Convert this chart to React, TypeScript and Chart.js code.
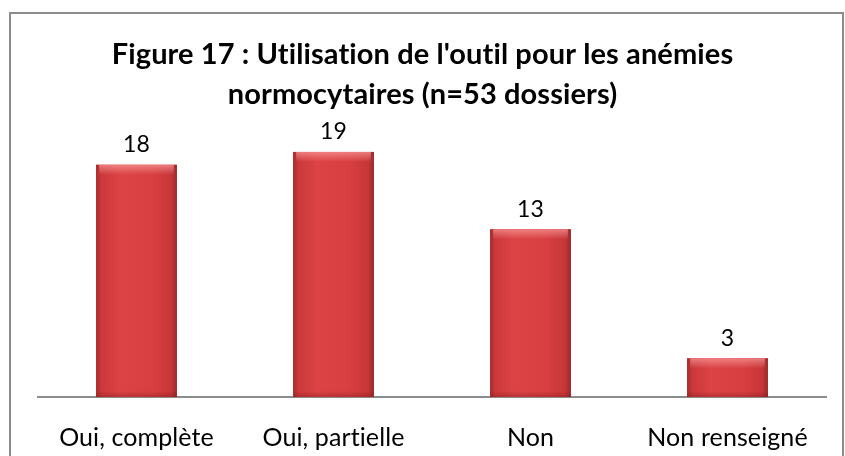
import React, { useEffect, useRef } from "react";
import { Chart, registerables } from "chart.js";

Chart.register(...registerables);

const categories = ["Oui, complète", "Oui, partielle", "Non", "Non renseigné"];
const values = [18, 19, 13, 3];
const titleLines = ["Figure 17 : Utilisation de l'outil pour les anémies", "normocytaires (n=53 dossiers)"];

const FONT = "Lato, 'Open Sans', sans-serif";

const noLigatures = {
  id: "noLigatures",
  beforeDraw(chart: any) {
    (chart.ctx as any).letterSpacing = "0.1px";
  },
};

const centeredTitle = {
  id: "centeredTitle",
  afterDraw(chart: any) {
    const ctx = chart.ctx;
    ctx.save();
    ctx.font = `bold 29px ${FONT}`;
    ctx.fillStyle = "#000";
    ctx.textAlign = "center";
    ctx.textBaseline = "middle";
    const cx = chart.width / 2;
    titleLines.forEach((line, i) => {
      ctx.fillText(line, cx, 55 + i * 40);
    });
    ctx.restore();
  },
};

const barStyle = {
  id: "barStyle",
  afterDatasetsDraw(chart: any) {
    const ctx = chart.ctx;
    const meta = chart.getDatasetMeta(0);
    ctx.save();
    meta.data.forEach((el: any) => {
      const l = el.x - el.width / 2;
      const r = el.x + el.width / 2;
      const t = el.y;
      const b = el.base;
      const g = ctx.createLinearGradient(l, 0, r, 0);
      g.addColorStop(0, "#a82c2e");
      g.addColorStop(0.07, "#cc393b");
      g.addColorStop(0.3, "#dc4345");
      g.addColorStop(0.7, "#d83f41");
      g.addColorStop(0.93, "#c63638");
      g.addColorStop(1, "#9a2a2c");
      ctx.fillStyle = g;
      ctx.fillRect(l, t, r - l, b - t);
      const v = ctx.createLinearGradient(0, t, 0, t + 10);
      v.addColorStop(0, "rgba(255,170,170,0.6)");
      v.addColorStop(1, "rgba(255,170,170,0)");
      ctx.fillStyle = v;
      ctx.fillRect(l + 3, t, r - l - 6, 10);
      const s = ctx.createLinearGradient(0, b - 6, 0, b);
      s.addColorStop(0, "rgba(120,20,20,0)");
      s.addColorStop(1, "rgba(120,20,20,0.35)");
      ctx.fillStyle = s;
      ctx.fillRect(l, b - 6, r - l, 6);
    });
    ctx.restore();
  },
};

const valueLabels = {
  id: "valueLabels",
  afterDatasetsDraw(chart: any) {
    const ctx = chart.ctx;
    const meta = chart.getDatasetMeta(0);
    ctx.save();
    ctx.font = `23px ${FONT}`;
    ctx.fillStyle = "#000";
    ctx.textAlign = "center";
    ctx.textBaseline = "middle";
    meta.data.forEach((el: any, i: number) => {
      ctx.fillText(String(values[i]), el.x, el.y - 20);
    });
    ctx.restore();
  },
};

export default function App() {
  const ref = useRef<HTMLCanvasElement>(null);
  useEffect(() => {
    const chart = new Chart(ref.current!, {
      type: "bar",
      data: {
        labels: categories,
        datasets: [
          {
            data: values,
            backgroundColor: "#d83e40",
            borderWidth: 0,
            barPercentage: 0.41,
            categoryPercentage: 1,
          },
        ],
      },
      options: {
        animation: false,
        responsive: false,
        layout: { padding: { left: 38, right: 19, top: 139, bottom: 0 } },
        plugins: {
          legend: { display: false },
          tooltip: { enabled: false },
          title: { display: false },
        },
        scales: {
          y: { display: false, min: 0, max: 20 },
          x: {
            grid: { display: false, drawTicks: false },
            border: { display: true, color: "#8c8c8c", width: 2 },
            ticks: { color: "#000", font: { family: FONT, size: 25 }, padding: 26, maxRotation: 0 },
            afterFit: (s: any) => {
              s.height = 59;
            },
          },
        },
      },
      plugins: [noLigatures, barStyle, valueLabels, centeredTitle],
    });
    return () => chart.destroy();
  }, []);
  return (
    <div style={{ position: "fixed", left: 0, top: 0, width: 845, height: 456, background: "#fff" }}>
      <div
        style={{
          position: "absolute",
          left: 9,
          top: 12,
          width: 835,
          height: 460,
          border: "2px solid #8c8c8c",
          boxSizing: "border-box",
        }}
      />
      <canvas ref={ref} width={845} height={456} style={{ position: "absolute", left: 0, top: 0 }} />
    </div>
  );
}
